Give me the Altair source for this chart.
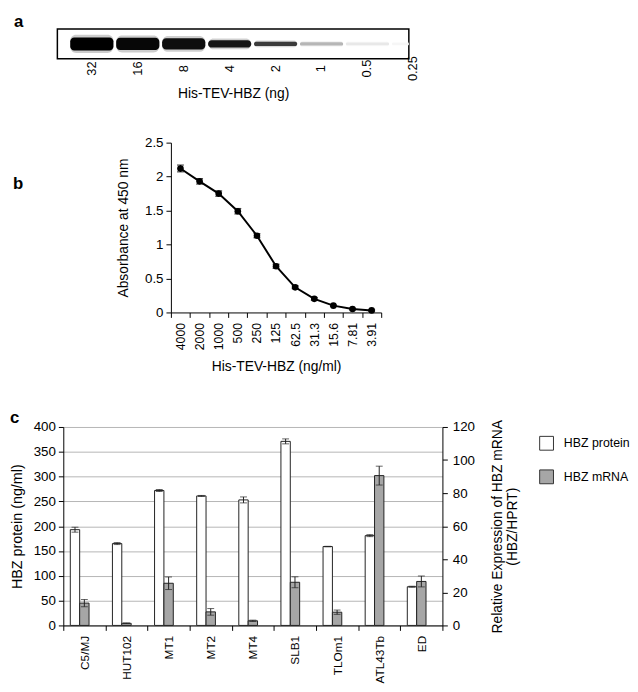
import altair as alt
import pandas as pd

FONT = "Liberation Sans"

# ---------------- data ----------------
# panel a: western blot lanes
blot_lanes = ["32", "16", "8", "4", "2", "1", "0.5", "0.25"]
blot_intensity = [1.0, 0.98, 0.96, 0.93, 0.75, 0.26, 0.08, 0.03]
blot_spread = [0.44, 0.41, 0.38, 0.25, 0.14, 0.11, 0.09, 0.08]

# panel b: ELISA standard curve
elisa_conc = ["4000", "2000", "1000", "500", "250", "125", "62.5", "31.3", "15.6", "7.81", "3.91"]
elisa_abs = [2.12, 1.93, 1.75, 1.49, 1.13, 0.68, 0.37, 0.20, 0.10, 0.05, 0.03]
elisa_err = [0.05, 0.04, 0.04, 0.04, 0.03, 0.03, 0.02, 0.02, 0.01, 0.01, 0.01]

# panel c: cell lines
cells = ["C5/MJ", "HUT102", "MT1", "MT2", "MT4", "SLB1", "TLOm1", "ATL43Tb", "ED"]
protein = [193, 165, 272, 261, 253, 371, 159, 181, 78]
protein_err = [5, 2, 2, 1, 6, 5, 0.5, 2, 1]
mrna = [13.5, 1.3, 25.5, 8.2, 2.8, 26.1, 8.0, 90.6, 26.6]
mrna_err = [2.2, 0.2, 3.8, 2.0, 0.4, 3.3, 1.3, 5.7, 3.3]
series = ["HBZ protein", "HBZ mRNA"]

# ---------------- helpers ----------------
one = pd.DataFrame({"k": [0]})


def spacer(y_top, y_bot):
    return alt.Chart(one).mark_rule(opacity=0, strokeWidth=0.1).encode(
        x=alt.value(0), x2=alt.value(0), y=alt.value(y_top), y2=alt.value(y_bot))


def blank(w):
    return alt.Chart(one).mark_rule(opacity=0, strokeWidth=0.1).encode(
        x=alt.value(0), x2=alt.value(w), y=alt.value(0)).properties(width=w, height=1)


def letter(t, x, y):
    return alt.Chart(one).mark_text(text=t, fontSize=17, fontWeight="bold", align="left",
                                    baseline="middle", color="black").encode(
        x=alt.value(x), y=alt.value(y))


# ---------------- panel a ----------------
blot = pd.DataFrame({"lane": list(range(len(blot_lanes))), "label": blot_lanes,
                     "intensity": blot_intensity, "spread": blot_spread})
xa_scale = alt.Scale(domain=[-0.75, 6.9], nice=False, zero=False)
ya_scale = alt.Scale(domain=[-1, 1], nice=False, zero=False)
xa_axis = alt.Axis(title="His-TEV-HBZ (ng)", labels=False, ticks=False, domain=False, grid=False,
                   titlePadding=28, titleFontSize=14)
fill_a = alt.Fill("intensity:Q", scale=alt.Scale(domain=[0, 1], range=["#ffffff", "#000000"]), legend=None)

base_a = alt.Chart(blot).transform_calculate(
    x1="datum.lane - 0.47", x2="datum.lane + 0.47",
    lo="-datum.spread", hi="datum.spread",
    hlo="-datum.spread * 1.3 - 0.04", hhi="datum.spread * 1.3 + 0.04")

halo = base_a.mark_rect(cornerRadius=6, clip=True, opacity=0.2).encode(
    x=alt.X("x1:Q", scale=xa_scale, axis=xa_axis), x2="x2:Q",
    y=alt.Y("hlo:Q", scale=ya_scale, axis=None), y2="hhi:Q", fill=fill_a)
band = base_a.mark_rect(cornerRadius=4, clip=True).encode(
    x=alt.X("x1:Q", scale=xa_scale, axis=xa_axis), x2="x2:Q",
    y=alt.Y("lo:Q", scale=ya_scale, axis=None), y2="hi:Q", fill=fill_a)
labels_a = alt.Chart(blot).mark_text(angle=270, align="center", baseline="middle", fontSize=13,
                                     color="black").encode(
    x=alt.X("lane:Q", scale=xa_scale, axis=xa_axis), y=alt.value(40), text="label:N")

panel_a = alt.layer(spacer(-14, 92), halo, band, labels_a, letter("a", -44, -7)).properties(
    width=356, height=30, view=alt.ViewBackground(stroke="black", strokeWidth=1.5))

# ---------------- panel b ----------------
elisa = pd.DataFrame({"conc": elisa_conc, "abs": elisa_abs, "err": elisa_err})
xb = alt.X("conc:N", sort=elisa_conc,
           scale=alt.Scale(type="band", paddingInner=0, paddingOuter=0),
           axis=alt.Axis(title="His-TEV-HBZ (ng/ml)", tickBand="extent", labelAngle=270,
                         labelAlign="right", labelBaseline="middle", labelFontSize=12.5,
                         labelPadding=5, tickSize=5, titleFontSize=14, titlePadding=10, grid=False))
yb_scale = alt.Scale(domain=[0, 2.5], nice=False)
yb_axis = alt.Axis(title="Absorbance at 450 nm", values=[0, 0.5, 1, 1.5, 2, 2.5], format="~g",
                   tickSize=5, labelFontSize=13.5, labelPadding=3, titleFontSize=14, titlePadding=14,
                   grid=False)
base_b = alt.Chart(elisa).transform_calculate(lo="datum.abs - datum.err", hi="datum.abs + datum.err")
line_b = base_b.mark_line(color="black", strokeWidth=2).encode(
    x=xb, y=alt.Y("abs:Q", scale=yb_scale, axis=yb_axis))
pts_b = base_b.mark_point(filled=True, size=45, color="black", opacity=1).encode(
    x=xb, y=alt.Y("abs:Q", scale=yb_scale, axis=yb_axis))
err_b = base_b.mark_rule(color="black", strokeWidth=1.2).encode(
    x=xb, y=alt.Y("lo:Q", scale=yb_scale, axis=yb_axis), y2="hi:Q")
caplo_b = base_b.mark_tick(color="black", size=7, thickness=1.2).encode(
    x=xb, y=alt.Y("lo:Q", scale=yb_scale, axis=yb_axis))
caphi_b = base_b.mark_tick(color="black", size=7, thickness=1.2).encode(
    x=xb, y=alt.Y("hi:Q", scale=yb_scale, axis=yb_axis))

panel_b = alt.layer(spacer(-22, 240), err_b, caplo_b, caphi_b, line_b, pts_b,
                    letter("b", -160, 42)).properties(width=213, height=172)

# ---------------- panel c ----------------
prot_df = pd.DataFrame({"cell": cells, "series": series[0], "val": protein, "err": protein_err})
mrna_df = pd.DataFrame({"cell": cells, "series": series[1], "val": mrna, "err": mrna_err})

xc = alt.X("cell:N", sort=cells, scale=alt.Scale(type="band", paddingInner=0, paddingOuter=0),
           axis=alt.Axis(title=None, tickBand="extent", labelAngle=270, labelAlign="right",
                         labelBaseline="middle", labelFontSize=12, labelPadding=5, tickSize=5,
                         grid=False))
xo = alt.XOffset("series:N", scale=alt.Scale(domain=series + ["_"], paddingInner=0, paddingOuter=0.75))
fill_c = alt.Fill("series:N", scale=alt.Scale(domain=series, range=["#ffffff", "#a6a6a6"]),
                  legend=alt.Legend(title=None, orient="none", legendX=538, legendY=9,
                                    symbolType="square", symbolSize=196, symbolStrokeColor="#333333",
                                    symbolStrokeWidth=1, labelFontSize=12.5, rowPadding=15,
                                    labelOffset=10, labelColor="black"))

yl_scale = alt.Scale(domain=[0, 400], nice=False)
yl_axis = alt.Axis(title="HBZ protein (ng/ml)", values=list(range(0, 401, 50)), grid=True,
                   gridColor="#b5b5b5", gridWidth=1, tickSize=5, labelFontSize=13.5, labelPadding=3,
                   titleFontSize=14.5, titlePadding=9)
yr_scale = alt.Scale(domain=[0, 120], nice=False)
yr_axis = alt.Axis(title=["Relative Expression of HBZ mRNA", "(HBZ/HPRT)"], orient="right",
                   values=list(range(0, 121, 20)), grid=False, tickSize=5, labelFontSize=13.5,
                   labelPadding=5, titleFontSize=14, titlePadding=0, titleAngle=270,
                   titleBaseline="top")


def series_layer(df, ysc, yax):
    base = alt.Chart(df).transform_calculate(lo="datum.val - datum.err", hi="datum.val + datum.err")
    bars = base.mark_bar(stroke="#222222", strokeWidth=1).encode(
        x=xc, xOffset=xo, y=alt.Y("val:Q", scale=ysc, axis=yax), fill=fill_c)
    rule = base.mark_rule(color="#222222", strokeWidth=1).encode(
        x=xc, xOffset=xo, y=alt.Y("lo:Q", scale=ysc, axis=yax), y2="hi:Q")
    cl = base.mark_tick(color="#222222", size=7, thickness=1).encode(
        x=xc, xOffset=xo, y=alt.Y("lo:Q", scale=ysc, axis=yax))
    ch = base.mark_tick(color="#222222", size=7, thickness=1).encode(
        x=xc, xOffset=xo, y=alt.Y("hi:Q", scale=ysc, axis=yax))
    return alt.layer(bars, rule, cl, ch)


panel_c = alt.layer(
    spacer(-48, 200),
    series_layer(prot_df, yl_scale, yl_axis),
    series_layer(mrna_df, yr_scale, yr_axis),
    letter("c", -54, -9),
).resolve_scale(y="independent").properties(width=384, height=201)

row_a = alt.hconcat(blank(5), panel_a, spacing=0)
row_b = alt.hconcat(blank(5), panel_b, spacing=0)
row_c = alt.hconcat(blank(1), panel_c, spacing=0)

chart = alt.vconcat(row_a, row_b, row_c, spacing=0).properties(
    padding=0
).configure(font=FONT).configure_view(stroke=None).configure_axis(
    domainColor="black", tickColor="black", labelColor="black", titleColor="black",
    titleFontWeight="normal", labelFont=FONT, titleFont=FONT
).configure_legend(labelFont=FONT)

chart.save("out.html", embed_options={"renderer": "svg", "actions": False})
